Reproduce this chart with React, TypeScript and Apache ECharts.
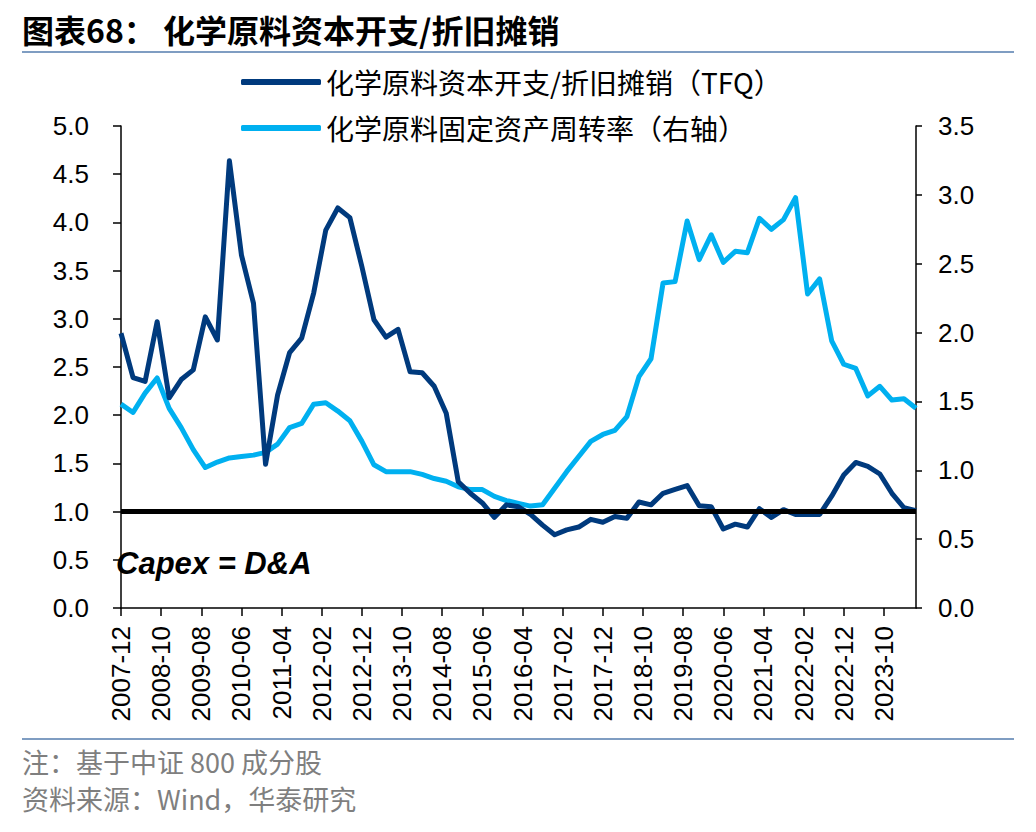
import React, { useEffect, useRef } from "react";
import * as echarts from "echarts";

// Monthly category axis from 2007-12 to 2024-06; data are quarterly.
const START_YEAR = 2007;
const START_MONTH = 12;
const MONTH_COUNT = 199;
const QUARTER_STEP = 3;

const seriesNames = ["化学原料资本开支/折旧摊销（TFQ）", "化学原料固定资产周转率（右轴）"];

// Quarterly values, 2007-12 ... 2024-06
const capexToDA = [
  2.85, 2.39, 2.35, 2.97, 2.18, 2.37, 2.47, 3.02, 2.78, 4.64,
  3.66, 3.16, 1.49, 2.21, 2.65, 2.8, 3.27, 3.92, 4.15, 4.05,
  3.54, 2.99, 2.81, 2.89, 2.45, 2.44, 2.3, 2.02, 1.31, 1.19,
  1.09, 0.94, 1.07, 1.05, 0.97, 0.86, 0.76, 0.81, 0.84, 0.92,
  0.89, 0.95, 0.93, 1.1, 1.07, 1.19, 1.23, 1.27, 1.06, 1.05,
  0.82, 0.87, 0.84, 1.03, 0.94, 1.02, 0.97, 0.97, 0.97, 1.16,
  1.38, 1.51, 1.47, 1.39, 1.19, 1.04, 1.01,
];

const assetTurnover = [
  1.48, 1.42, 1.56, 1.67, 1.45, 1.31, 1.15, 1.02, 1.06, 1.09,
  1.1, 1.11, 1.13, 1.19, 1.31, 1.34, 1.48, 1.49, 1.43, 1.36,
  1.21, 1.04, 0.99, 0.99, 0.99, 0.97, 0.94, 0.92, 0.88, 0.86,
  0.86, 0.81, 0.78, 0.76, 0.74, 0.75, 0.87, 0.99, 1.1, 1.21,
  1.26, 1.29, 1.39, 1.68, 1.81, 2.36, 2.37, 2.81, 2.53, 2.71,
  2.51, 2.59, 2.58, 2.83, 2.75, 2.82, 2.98, 2.28, 2.39, 1.94,
  1.77, 1.74, 1.54, 1.61, 1.51, 1.52, 1.45,
];

const referenceLevel = 1.0;
const leftAxis = { min: 0, max: 5, interval: 0.5 };
const rightAxis = { min: 0, max: 3.5, interval: 0.5 };

const titleText = "图表68： 化学原料资本开支/折旧摊销";
const noteText = "注：基于中证 800 成分股";
const sourceText = "资料来源：Wind，华泰研究";
const annotationText = "Capex = D&A";

function buildMonths(): string[] {
  const out: string[] = [];
  let y = START_YEAR;
  let m = START_MONTH;
  for (let i = 0; i < MONTH_COUNT; i++) {
    out.push(`${y}-${String(m).padStart(2, "0")}`);
    m++;
    if (m > 12) {
      m = 1;
      y++;
    }
  }
  return out;
}

function toMonthly(values: number[]): (number | null)[] {
  const arr: (number | null)[] = new Array(MONTH_COUNT).fill(null);
  values.forEach((v, i) => {
    const idx = i * QUARTER_STEP;
    if (idx < MONTH_COUNT) arr[idx] = v;
  });
  return arr;
}

const NAVY = "#003A7D";
const SKY = "#00B0F0";
const SEP = "#7F9DC2";
const TICK_FONT = "Liberation Sans, Arial, sans-serif";
const CJK_FONT = "Noto Sans CJK SC, sans-serif";

export default function App() {
  const ref = useRef<HTMLDivElement>(null);

  useEffect(() => {
    if (!ref.current) return;
    const chart = echarts.init(ref.current, undefined, { renderer: "svg" });
    const months = buildMonths();

    const option: any = {
      animation: false,
      backgroundColor: "#ffffff",
      grid: { left: 121, right: 120, top: 126, bottom: 224, containLabel: false },
      legend: {
        orient: "vertical",
        left: 236,
        top: 63,
        itemWidth: 80,
        itemHeight: 6,
        itemGap: 18,
        icon: "roundRect",
        textStyle: { fontSize: 28, color: "#000", fontFamily: CJK_FONT },
        data: seriesNames,
      },
      xAxis: {
        type: "category",
        data: months,
        boundaryGap: false,
        axisLine: { lineStyle: { color: "#000", width: 1.5 } },
        axisTick: {
          interval: 9,
          length: 8,
          lineStyle: { color: "#000", width: 1.5 },
        },
        axisLabel: {
          interval: 9,
          rotate: 90,
          margin: 18,
          fontSize: 26,
          color: "#000",
          fontFamily: TICK_FONT,
        },
        splitLine: { show: false },
      },
      yAxis: [
        {
          type: "value",
          min: leftAxis.min,
          max: leftAxis.max,
          interval: leftAxis.interval,
          axisLine: { show: true, lineStyle: { color: "#000", width: 1.5 } },
          axisTick: { show: true, length: 8, lineStyle: { color: "#000", width: 1.5 } },
          axisLabel: {
            margin: 32,
            fontSize: 26,
            color: "#000",
            fontFamily: TICK_FONT,
            formatter: (v: number) => v.toFixed(1),
          },
          splitLine: { show: false },
        },
        {
          type: "value",
          min: rightAxis.min,
          max: rightAxis.max,
          interval: rightAxis.interval,
          position: "right",
          axisLine: { show: true, lineStyle: { color: "#000", width: 1.5 } },
          axisTick: { show: true, length: 6, lineStyle: { color: "#000", width: 1.5 } },
          axisLabel: {
            margin: 22,
            fontSize: 26,
            color: "#000",
            fontFamily: TICK_FONT,
            formatter: (v: number) => v.toFixed(1),
          },
          splitLine: { show: false },
        },
      ],
      series: [
        {
          name: seriesNames[0],
          type: "line",
          yAxisIndex: 0,
          data: toMonthly(capexToDA),
          connectNulls: true,
          showSymbol: false,
          symbol: "none",
          color: NAVY,
          lineStyle: { color: NAVY, width: 5, join: "round" },
          z: 3,
          markLine: {
            silent: true,
            symbol: "none",
            label: { show: false },
            lineStyle: { color: "#000", width: 5, type: "solid" },
            data: [{ yAxis: referenceLevel }],
            z: 5,
          },
        },
        {
          name: seriesNames[1],
          type: "line",
          yAxisIndex: 1,
          data: toMonthly(assetTurnover),
          connectNulls: true,
          showSymbol: false,
          symbol: "none",
          color: SKY,
          lineStyle: { color: SKY, width: 5, join: "round" },
          z: 2,
        },
      ],
      graphic: [
        {
          type: "text",
          left: 22,
          top: 13,
          style: {
            text: titleText,
            font: `bold 32px ${CJK_FONT}`,
            fill: "#000",
          },
        },
        {
          type: "line",
          shape: { x1: 22, y1: 52, x2: 1014, y2: 52 },
          style: { stroke: SEP, lineWidth: 2 },
        },
        {
          type: "text",
          x: 116,
          y: 563,
          style: {
            text: annotationText,
            font: `italic bold 31px ${TICK_FONT}`,
            fill: "#000",
            textVerticalAlign: "middle",
          },
          z: 10,
        },
        {
          type: "line",
          shape: { x1: 22, y1: 739, x2: 1014, y2: 739 },
          style: { stroke: SEP, lineWidth: 2 },
        },
        {
          type: "text",
          left: 22,
          top: 748,
          style: {
            text: noteText,
            font: `27px ${CJK_FONT}`,
            fill: "#7F7F7F",
          },
        },
        {
          type: "text",
          left: 22,
          top: 785,
          style: {
            text: sourceText,
            font: `27px ${CJK_FONT}`,
            fill: "#7F7F7F",
          },
        },
      ],
    };

    chart.setOption(option);
    return () => chart.dispose();
  }, []);

  return (
    <div
      ref={ref}
      style={{ position: "fixed", left: 0, top: 0, width: 1036, height: 832, background: "#fff" }}
    />
  );
}
